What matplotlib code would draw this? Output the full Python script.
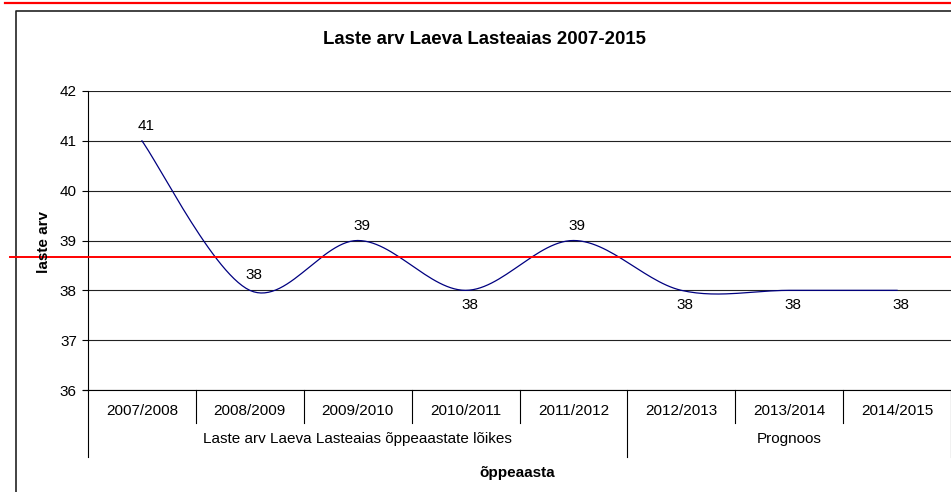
import numpy as np
import matplotlib.pyplot as plt
from matplotlib.lines import Line2D
from matplotlib.transforms import blended_transform_factory

# data
school_years = ["2007/2008", "2008/2009", "2009/2010", "2010/2011", "2011/2012",
                "2012/2013", "2013/2014", "2014/2015"]
children = [41, 38, 39, 38, 39, 38, 38, 38]
groups = ["Laste arv Laeva Lasteaias õppeaastate lõikes", "Prognoos"]
group_sizes = [5, 3]
label_above = [True, True, True, False, True, False, False, False]
y_ticks = [36, 37, 38, 39, 40, 41, 42]

W, H = 951, 492
plt.rcParams['font.family'] = ['Liberation Sans', 'DejaVu Sans']
fig = plt.figure(figsize=(W / 100, H / 100), dpi=100)

def fy(py):
    return 1 - py / H

def fx(px):
    return px / W

# plot area in pixels
left, right, top, bottom = 88, 951, 91, 390
ax = fig.add_axes([fx(left), fy(bottom), fx(right) - fx(left), fy(top) - fy(bottom)])


def excel_smooth(xs, ys, n=30):
    """Bezier smoothing like Excel's smoothed line."""
    xs = np.asarray(xs, float)
    ys = np.asarray(ys, float)
    px = np.concatenate([[xs[0]], xs, [xs[-1]]])
    py = np.concatenate([[ys[0]], ys, [ys[-1]]])
    out_x, out_y = [], []
    t = np.linspace(0, 1, n)
    for i in range(1, len(px) - 2):
        p0 = np.array([px[i], py[i]])
        p3 = np.array([px[i + 1], py[i + 1]])
        c1 = p0 + (np.array([px[i + 1], py[i + 1]]) - np.array([px[i - 1], py[i - 1]])) / 6
        c2 = p3 - (np.array([px[i + 2], py[i + 2]]) - np.array([px[i], py[i]])) / 6
        b = ((1 - t) ** 3)[:, None] * p0 + (3 * (1 - t) ** 2 * t)[:, None] * c1 \
            + (3 * (1 - t) * t ** 2)[:, None] * c2 + (t ** 3)[:, None] * p3
        out_x.extend(b[:, 0])
        out_y.extend(b[:, 1])
    return out_x, out_y


xpos = np.arange(len(children)) + 0.5
sx, sy = excel_smooth(xpos, children)
ax.plot(sx, sy, color='#000080', lw=0.9, zorder=3)

for x, v, above in zip(xpos, children, label_above):
    ax.annotate(str(v), (x, v), xytext=(4, 15 if above else -15), textcoords='offset pixels',
                ha='center', va='center', fontsize=11, color='black')

ax.set_xlim(0, len(children))
ax.set_ylim(36, 42)
ax.set_yticks(y_ticks)
ax.set_yticklabels([str(t) for t in y_ticks], fontsize=11)
ax.set_xticks([])
ax.tick_params(axis='y', length=4, width=0.8, pad=4, direction='out', color='black')
ax.grid(axis='y', color='#222222', lw=0.8)
ax.set_axisbelow(True)
for s in ['top', 'right']:
    ax.spines[s].set_visible(False)
for s in ['left', 'bottom']:
    ax.spines[s].set_color('black')
    ax.spines[s].set_linewidth(0.8)

# multi-level category axis
tr = blended_transform_factory(ax.transData, fig.transFigure)
for i, name in enumerate(school_years):
    ax.text(i + 0.5, fy(411), name, transform=tr, ha='center', va='center', fontsize=11)
bounds = np.concatenate([[0], np.cumsum(group_sizes)])
for i in range(len(children) + 1):
    end = 457 if i in bounds else 423
    fig.add_artist(Line2D([i, i], [fy(bottom), fy(end)], transform=tr, color='black', lw=0.8))
for g, a, b in zip(groups, bounds[:-1], bounds[1:]):
    ax.text((a + b) / 2, fy(439), g, transform=tr, ha='center', va='center', fontsize=11)
fig.add_artist(Line2D([fx(83), fx(left)], [fy(bottom), fy(bottom)], color='black', lw=0.8))

fig.text(fx(517), fy(473), "õppeaasta", ha='center', va='center', fontsize=11, fontweight='bold')
fig.text(fx(44), fy(242), "laste arv", ha='center', va='center', rotation=90,
         fontsize=11, fontweight='bold')
fig.text(fx(484), fy(40), "Laste arv Laeva Lasteaias 2007-2015", ha='center', va='center',
         fontsize=13.4, fontweight='bold')

# chart border
fig.add_artist(Line2D([fx(16), fx(16), fx(W + 5)], [fy(H + 5), fy(11), fy(11)],
                      color='#222222', lw=1.2))
# red overlay lines
fig.add_artist(Line2D([fx(5), fx(W)], [fy(2.5), fy(2.5)], color='#ff0000', lw=1.6))
fig.add_artist(Line2D([fx(10), fx(W)], [fy(257), fy(257)], color='#ff0000', lw=1.4))

fig.savefig("out.png", dpi=100)
